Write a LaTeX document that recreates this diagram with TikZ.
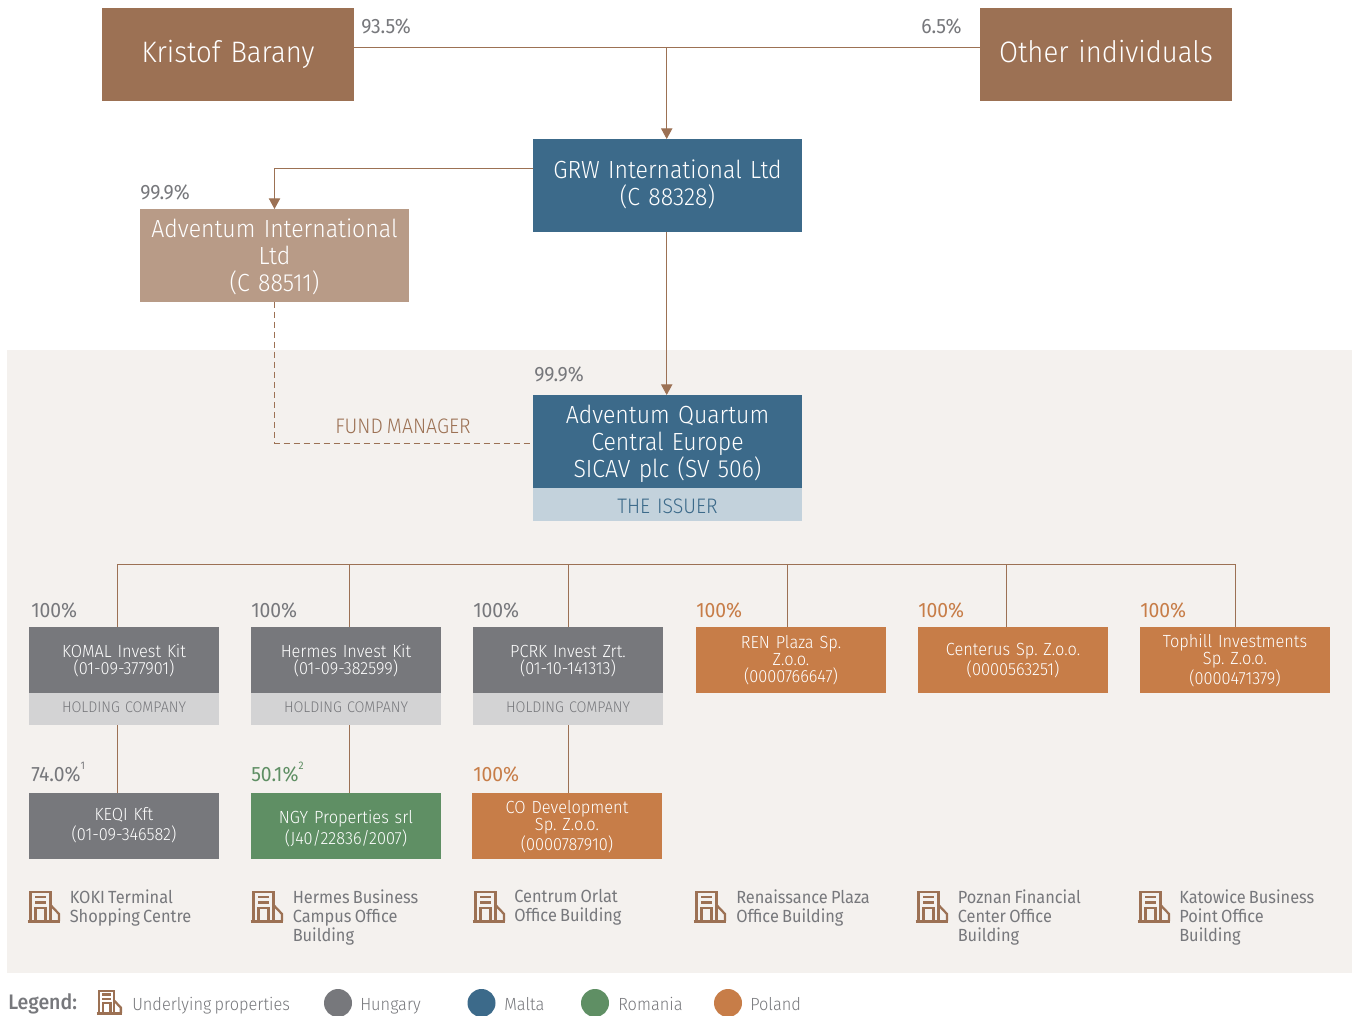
\documentclass[tikz,border=0pt]{standalone}
\usepackage{fontspec}
\setmainfont{Fira Sans}[UprightFont=* Light,BoldFont=* Medium,FakeStretch=0.93,WordSpace=0.75]
\newfontfamily\regfont{Fira Sans}[FakeStretch=0.93,WordSpace=0.75]
\usetikzlibrary{arrows.meta}
\definecolor{cbrown}{HTML}{9C7154}
\definecolor{cblue}{HTML}{3C6A8A}
\definecolor{ctan}{HTML}{B89B87}
\definecolor{cgrey}{HTML}{77787C}
\definecolor{corange}{HTML}{C77D48}
\definecolor{cgreen}{HTML}{5F8F64}
\definecolor{cbg}{HTML}{F4F1EE}
\definecolor{clblue}{HTML}{C3D2DC}
\definecolor{clgrey}{HTML}{D3D3D4}
\newcommand{\pxfont}[2]{\fontsize{\dimexpr#1pt*3/4\relax}{\dimexpr#2pt*3/4\relax}\selectfont}
\def\dnval{0}
\tikzset{
 x=0.75pt,y=-0.75pt,
 dn/.code={\def\dnval{#1}},
 box/.style={rectangle,inner sep=0pt,outer sep=0pt,text=white,align=center,dn=0,
   execute at begin node={\rule{0pt}{\dimexpr .95em+\dnval pt*3/2\relax}},
   execute at end node={\rule[-.3em]{0pt}{0pt}}},
 size/.style 2 args={minimum width=#1*0.75pt,minimum height=#2*0.75pt,text width=#1*0.75pt},
 large/.style={font=\pxfont{29.6}{30},dn=-2},
 mid/.style={font=\pxfont{24.8}{27}},
 small/.style={font=\pxfont{17.6}{17}},
 tag/.style={font=\pxfont{15.4}{16},dn=-2},
 pct/.style={inner sep=0pt,anchor=base west,text=cgrey,font=\regfont\pxfont{20.8}{21}},
 captxt/.style={inner sep=0pt,anchor=north west,align=left,text=cgrey,font=\regfont\pxfont{17.6}{19},execute at begin node={\rule{0pt}{1em}}},
 leg/.style={inner sep=0pt,anchor=base west,text=cgrey,font=\pxfont{17.6}{19}},
 dot/.style={circle,inner sep=0pt,minimum size=21pt,outer sep=0pt},
 link/.style={draw=cbrown,line width=0.75pt},
 arr/.style={link,-{Triangle[length=8pt,width=8.5pt]}},
 pics/bldg/.style={code={
  \draw[cbrown,line width=1.7pt] (2.5,30) -- (2.5,1) -- (22.5,1) -- (22.5,30);
  \draw[cbrown,line width=1.7pt] (-0.5,30.5) -- (32,30.5);
  \draw[cbrown,line width=1.7pt] (22.5,14) -- (31,23) -- (31,30);
  \draw[cbrown,line width=1.7pt] (7,6) -- (18,6) (7,11.5) -- (18,11.5);
  \draw[cbrown,line width=1.7pt] (7.5,30) -- (7.5,17) -- (17.5,17) -- (17.5,30);
 }},
}
\begin{document}
\frenchspacing
\begin{tikzpicture}
\useasboundingbox (0,0) rectangle (1357,1016);
\fill[white] (0,0) rectangle (1357,1016);
\fill[cbg] (7,350) rectangle (1352,973);
% top
\node[box,fill=cbrown,size={252}{93},large] (kb) at (228,54.5) {Kristof Barany};
\node[box,fill=cbrown,size={252}{93},large] (oi) at (1106,54.5) {Other individuals};
\node[box,fill=cblue,size={269}{93},mid,dn=-2] (grw) at (667.5,185.5) {GRW International Ltd\\(C 88328)};
\node[box,fill=ctan,size={269}{93},mid,dn=1] (ai) at (274.5,255.5) {Adventum International\\Ltd\\(C 88511)};
\node[box,fill=cblue,size={269}{93},mid,dn=0.6] (sv) at (667.5,441.5) {Adventum Quartum\\Central Europe\\SICAV plc (SV 506)};
\node[box,fill=clblue,size={269}{33},text=cblue,font=\pxfont{21}{20},dn=2] (iss) at (667.5,504.5) {THE ISSUER};
% percent labels
\node[pct] (p1) at (361,34) {93.5\%};
\node[pct] (p2) at (921,34) {6.5\%};
\node[pct] (p3) at (140,199.5) {99.9\%};
\node[pct] (p4) at (534,381.5) {99.9\%};
\node[inner sep=0pt,anchor=base west,text=cbrown,font=\pxfont{21}{19}] (fm) at (335,433) {FUND MANAGER};
% subsidiaries row 1
\node[box,fill=cgrey,size={190}{66},small] (komal) at (124,660) {KOMAL Invest Kit\\(01-09-377901)};
\node[box,fill=clgrey,size={190}{32},text=cgrey,tag] (h1) at (124,709) {HOLDING COMPANY};
\node[box,fill=cgrey,size={190}{66},small] (herm) at (346,660) {Hermes Invest Kit\\(01-09-382599)};
\node[box,fill=clgrey,size={190}{32},text=cgrey,tag] (h2) at (346,709) {HOLDING COMPANY};
\node[box,fill=cgrey,size={190}{66},small] (pcrk) at (568,660) {PCRK Invest Zrt.\\(01-10-141313)};
\node[box,fill=clgrey,size={190}{32},text=cgrey,tag] (h3) at (568,709) {HOLDING COMPANY};
\node[box,fill=corange,size={190}{66},small] (ren) at (791,660) {REN Plaza Sp.\\Z.o.o.\\(0000766647)};
\node[box,fill=corange,size={190}{66},small] (cen) at (1013,660) {Centerus Sp. Z.o.o.\\(0000563251)};
\node[box,fill=corange,size={190}{66},small] (top) at (1235,660) {Tophill Investments\\Sp. Z.o.o.\\(0000471379)};
% row 2
\node[box,fill=cgrey,size={190}{66},small,dn=-1] (keqi) at (124,826) {KEQI Kft\\[2.2pt](01-09-346582)};
\node[box,fill=cgreen,size={190}{66},small,dn=2] (ngy) at (346,826) {NGY Properties srl\\[1pt](J40/22836/2007)};
\node[box,fill=corange,size={190}{66},small] (co) at (567,826) {CO Development\\Sp. Z.o.o.\\(0000787910)};
% pct
\node[pct] (a1) at (31,617) {100\%};
\node[pct] (a2) at (251,617) {100\%};
\node[pct] (a3) at (473,617) {100\%};
\node[pct,text=corange] (a4) at (696,617) {100\%};
\node[pct,text=corange] (a5) at (918,617) {100\%};
\node[pct,text=corange] (a6) at (1140,617) {100\%};
\node[pct] (b1) at (31,781) {74.0\%\raisebox{0.55em}{\pxfont{11}{11}1}};
\node[pct,text=cgreen] (b2) at (251,781) {50.1\%\raisebox{0.55em}{\pxfont{11}{11}2}};
\node[pct,text=corange] (b3) at (473,781) {100\%};
% connectors
\coordinate (tj) at (666.7,47.4);
\draw[link] (kb.east |- tj) -- (oi.west |- tj);
\draw[arr] (tj) -- (grw.north -| tj);
\coordinate (gl) at (533,169);
\draw[arr] (gl) -| (ai.north);
\draw[arr] (grw.south -| tj) -- (sv.north -| tj);
\coordinate (sl) at (533,443);
\draw[cbrown,line width=0.75pt,dash pattern=on 4.5pt off 3pt] (ai.south) |- (sl);
\coordinate (d1) at (117,564);
\coordinate (d2) at (349,564);
\coordinate (d3) at (568.5,564);
\coordinate (d4) at (787,564);
\coordinate (d5) at (1006.5,564);
\coordinate (d6) at (1235,564);
\draw[link] (komal.north -| d1) |- (d6) -- (top.north -| d6);
\draw[link] (d2) -- (herm.north -| d2);
\draw[link] (d3) -- (pcrk.north -| d3);
\draw[link] (d4) -- (ren.north -| d4);
\draw[link] (d5) -- (cen.north -| d5);
\draw[link] (h1.south -| d1) -- (keqi.north -| d1);
\draw[link] (h2.south -| d2) -- (ngy.north -| d2);
\draw[link] (h3.south -| d3) -- (co.north -| d3);
% properties
\pic at (28,891) {bldg};
\pic at (251,891) {bldg};
\pic at (473,891) {bldg};
\pic at (694,891) {bldg};
\pic at (916,891) {bldg};
\pic at (1138,891) {bldg};
\node[captxt] (c1) at (69.5,889.5) {KOKI Terminal\\Shopping Centre};
\node[captxt] (c2) at (292.5,889.5) {Hermes Business\\Campus Office\\Building};
\node[captxt] (c3) at (514,889.5) {Centrum Orlat\\Office Building};
\node[captxt] (c4) at (736,889.5) {Renaissance Plaza\\Office Building};
\node[captxt] (c5) at (957.5,889.5) {Poznan Financial\\Center Office\\Building};
\node[captxt] (c6) at (1179,889.5) {Katowice Business\\Point Office\\Building};
% legend
\node[leg,font=\bfseries\pxfont{21}{19}] (lg) at (8,1009) {Legend:};
\pic[scale=0.77] at (97,990) {bldg};
\node[leg] (l0) at (132,1010) {Underlying properties};
\node[dot,fill=cgrey] (d-h) at (338,1003) {};
\node[leg] (l1) at (360,1010) {Hungary};
\node[dot,fill=cblue] (d-m) at (481.5,1003) {};
\node[leg] (l2) at (504,1010) {Malta};
\node[dot,fill=cgreen] (d-r) at (595,1003) {};
\node[leg] (l3) at (618,1010) {Romania};
\node[dot,fill=corange] (d-p) at (728,1003) {};
\node[leg] (l4) at (750,1010) {Poland};
\end{tikzpicture}
\end{document}
